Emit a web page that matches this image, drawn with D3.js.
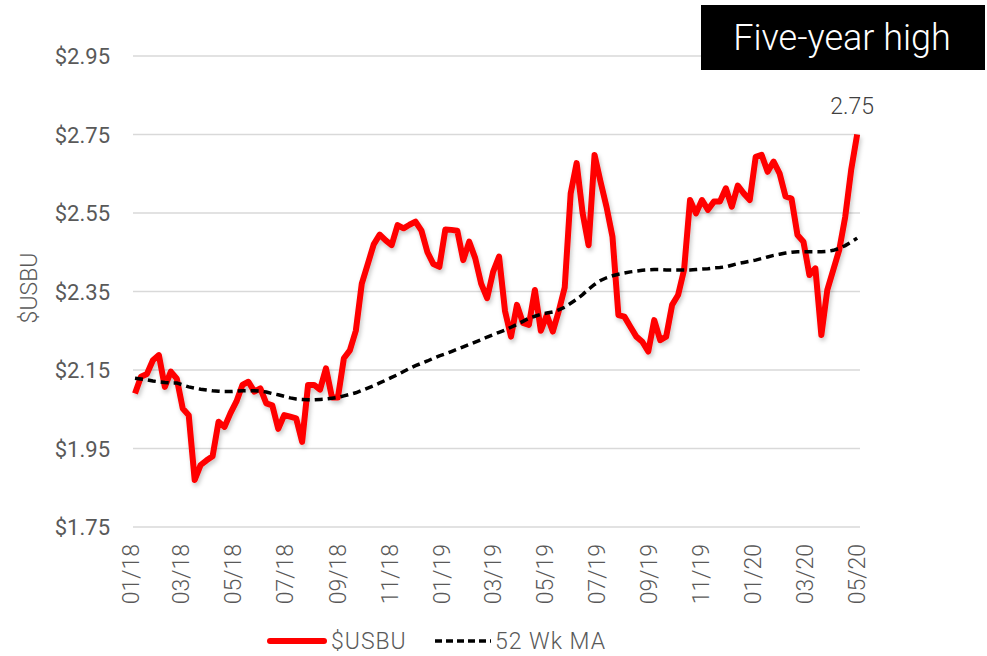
<!DOCTYPE html>
<html>
<head>
<meta charset="utf-8">
<script src="https://cdn.jsdelivr.net/npm/d3@7"></script>
<style>
  body { margin: 0; background: #fff; }
  .light { font-family: Roboto, "Open Sans", sans-serif; font-weight: 300; }
</style>
</head>
<body>
<svg id="chart"></svg>
<script>
// weekly series, first week starts 01/01/2018
const firstWeek = '2018-01-01';

const usbu = [
  2.09, 2.133, 2.14, 2.175, 2.188, 2.107, 2.146, 2.128, 2.052, 2.035,
  1.870, 1.908, 1.92, 1.93, 2.018, 2.005, 2.04, 2.07, 2.112, 2.12,
  2.095, 2.103, 2.065, 2.06, 2.00, 2.035, 2.031, 2.027, 1.967, 2.112,
  2.112, 2.10, 2.154, 2.08, 2.08, 2.18, 2.20, 2.25, 2.37, 2.42,
  2.47, 2.495, 2.48, 2.468, 2.519, 2.511, 2.52, 2.528, 2.505, 2.45,
  2.42, 2.413, 2.508, 2.507, 2.505, 2.43, 2.477, 2.435, 2.37, 2.333,
  2.40, 2.439, 2.30, 2.235, 2.316, 2.27, 2.265, 2.354, 2.25, 2.29,
  2.248, 2.30, 2.36, 2.60, 2.677, 2.55, 2.468, 2.698, 2.63, 2.566,
  2.49, 2.29, 2.286, 2.26, 2.235, 2.222, 2.197, 2.277, 2.226, 2.235,
  2.316, 2.341, 2.405, 2.583, 2.549, 2.583, 2.558, 2.579, 2.579, 2.613,
  2.566, 2.62, 2.60, 2.583, 2.693, 2.698, 2.655, 2.681, 2.651, 2.592,
  2.587, 2.494, 2.477, 2.392, 2.409, 2.239, 2.354, 2.405, 2.456, 2.54,
  2.66, 2.75
];

const movingAvg = [
  2.129, 2.127, 2.125, 2.122, 2.120, 2.118, 2.117, 2.117, 2.112, 2.107,
  2.104, 2.101, 2.099, 2.097, 2.096, 2.095, 2.095, 2.096, 2.097, 2.097,
  2.097, 2.096, 2.094, 2.090, 2.087, 2.083, 2.079, 2.076, 2.075, 2.074,
  2.074, 2.075, 2.076, 2.078, 2.080, 2.084, 2.088, 2.092, 2.098, 2.104,
  2.110, 2.117, 2.124, 2.131, 2.138, 2.146, 2.154, 2.161, 2.167, 2.173,
  2.180, 2.186, 2.191, 2.197, 2.203, 2.209, 2.215, 2.221, 2.227, 2.234,
  2.240, 2.246, 2.252, 2.259, 2.266, 2.274, 2.282, 2.287, 2.292, 2.295,
  2.298, 2.303, 2.310, 2.320, 2.330, 2.342, 2.356, 2.368, 2.378, 2.385,
  2.390, 2.394, 2.397, 2.400, 2.402, 2.404, 2.405, 2.406, 2.406, 2.405,
  2.405, 2.405, 2.405, 2.405, 2.406, 2.407, 2.408, 2.410, 2.411, 2.413,
  2.417, 2.421, 2.424, 2.427, 2.430, 2.434, 2.438, 2.442, 2.445, 2.448,
  2.450, 2.451, 2.451, 2.451, 2.451, 2.451, 2.452, 2.455, 2.460, 2.467,
  2.476, 2.486
];

const yTicks = [1.75, 1.95, 2.15, 2.35, 2.55, 2.75, 2.95];
const xTickLabels = ['01/18', '03/18', '05/18', '07/18', '09/18', '11/18', '01/19',
  '03/19', '05/19', '07/19', '09/19', '11/19', '01/20', '03/20', '05/20'];

const seriesNames = ['$USBU', '52 Wk MA'];
const titleText = 'Five-year high';
const lastLabel = '2.75';

const w = 987, h = 656;
const plotLeft = 135, plotRight = 860, plotTop = 56, plotBottom = 527;

const parseDay = d3.timeParse('%Y-%m-%d');
const parseTick = d3.timeParse('%m/%y');
const start = parseDay(firstWeek);
const dates = usbu.map((d, i) => d3.timeDay.offset(start, i * 7));
const tickDates = xTickLabels.map(parseTick);

const svg = d3.select('#chart').attr('width', w).attr('height', h);

const defs = svg.append('defs');
const shadow = defs.append('filter').attr('id', 'shadow')
  .attr('x', '-5%').attr('y', '-5%').attr('width', '110%').attr('height', '120%');
shadow.append('feDropShadow')
  .attr('dx', 1.5).attr('dy', 3).attr('stdDeviation', 2)
  .attr('flood-color', '#000').attr('flood-opacity', 0.22);

const xScale = d3.scaleTime()
  .domain([tickDates[0], d3.timeDay.offset(tickDates[tickDates.length - 1], -3)])
  .range([plotLeft, plotRight - 2]);

const yScale = d3.scaleLinear()
  .domain([1.75, 2.95])
  .range([plotBottom, plotTop]);

// gridlines
svg.append('g')
  .selectAll('line')
  .data(yTicks)
  .enter()
  .append('line')
  .attr('x1', plotLeft - 2)
  .attr('x2', plotRight)
  .attr('y1', (d) => yScale(d))
  .attr('y2', (d) => yScale(d))
  .attr('stroke', '#d9d9d9')
  .attr('stroke-width', 1.5);

// y axis labels
svg.append('g')
  .selectAll('text')
  .data(yTicks)
  .enter()
  .append('text')
  .attr('x', 110)
  .attr('y', (d) => yScale(d) + 8)
  .attr('text-anchor', 'end')
  .attr('font-family', 'Roboto, sans-serif')
  .attr('font-size', '22px')
  .attr('fill', '#595959')
  .text((d) => '$' + d3.format('.2f')(d));

svg.append('text')
  .attr('class', 'light')
  .attr('transform', `translate(37, 288) rotate(-90)`)
  .attr('text-anchor', 'middle')
  .attr('font-size', '23px')
  .attr('fill', '#595959')
  .text(seriesNames[0]);

// x axis labels
svg.append('g')
  .selectAll('text')
  .data(tickDates)
  .enter()
  .append('text')
  .attr('class', 'light')
  .attr('transform', (d) => `translate(${xScale(d) + 4}, 544) rotate(-90)`)
  .attr('text-anchor', 'end')
  .attr('font-size', '23px')
  .attr('fill', '#595959')
  .text((d, i) => xTickLabels[i]);

// lines
const line = (vals) => d3.line()
  .x((d, i) => xScale(dates[i]))
  .y((d) => yScale(d))(vals);

svg.append('path')
  .attr('d', line(usbu))
  .attr('fill', 'none')
  .attr('stroke', '#ff0000')
  .attr('stroke-width', 6)
  .attr('stroke-linejoin', 'round')
  .attr('filter', 'url(#shadow)');

svg.append('path')
  .attr('d', line(movingAvg))
  .attr('fill', 'none')
  .attr('stroke', '#000')
  .attr('stroke-width', 3.5)
  .attr('stroke-dasharray', '8,5');

// label on last point
svg.append('text')
  .attr('class', 'light')
  .attr('x', xScale(dates[dates.length - 1]) - 5)
  .attr('y', 114)
  .attr('text-anchor', 'middle')
  .attr('font-size', '23px')
  .attr('fill', '#404040')
  .text(lastLabel);

// title box
svg.append('rect')
  .attr('x', 701)
  .attr('y', 5)
  .attr('width', 284)
  .attr('height', 65)
  .attr('fill', '#000');

svg.append('text')
  .attr('class', 'light')
  .attr('x', 842)
  .attr('y', 50)
  .attr('text-anchor', 'middle')
  .attr('font-size', '36px')
  .attr('fill', '#fff')
  .text(titleText);

// legend
const legend = svg.append('g').attr('transform', 'translate(0, 641)');
legend.append('line')
  .attr('x1', 270).attr('x2', 324).attr('y1', 0).attr('y2', 0)
  .attr('stroke', '#ff0000').attr('stroke-width', 6).attr('stroke-linecap', 'round');
legend.append('text')
  .attr('class', 'light')
  .attr('x', 331).attr('y', 8)
  .attr('font-size', '23px').attr('letter-spacing', '1px').attr('fill', '#595959')
  .text(seriesNames[0]);
legend.append('line')
  .attr('x1', 435).attr('x2', 491).attr('y1', 0).attr('y2', 0)
  .attr('stroke', '#000').attr('stroke-width', 3.5).attr('stroke-dasharray', '7,4');
legend.append('text')
  .attr('class', 'light')
  .attr('x', 495).attr('y', 8)
  .attr('font-size', '23px').attr('letter-spacing', '1px').attr('fill', '#595959')
  .text(seriesNames[1]);
</script>
</body>
</html>
